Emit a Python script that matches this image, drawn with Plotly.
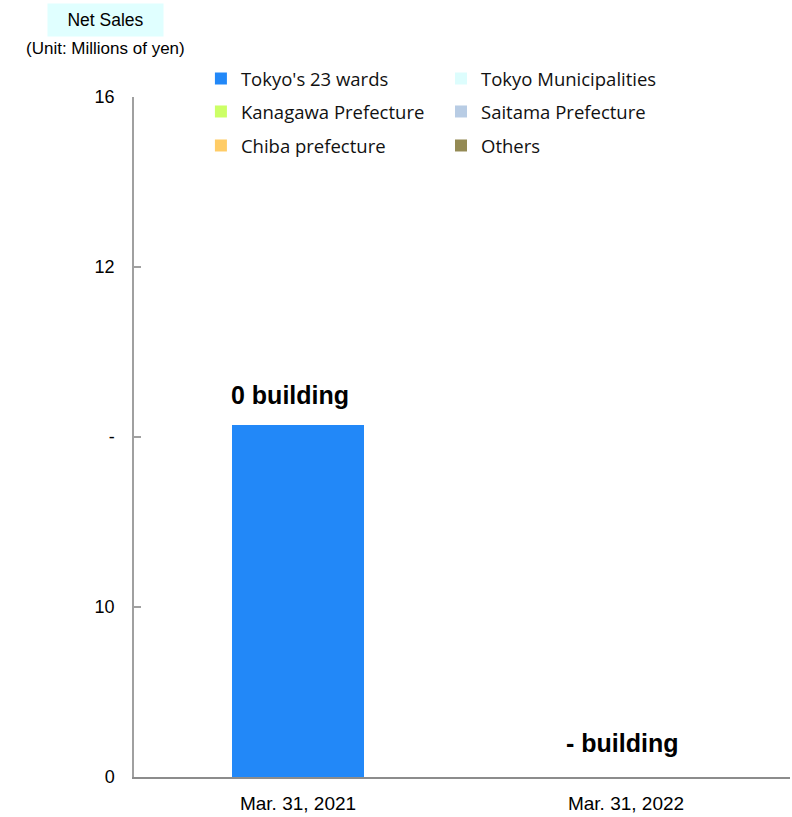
import plotly.graph_objects as go

categories = ["Mar. 31, 2021", "Mar. 31, 2022"]
series_names = ["Tokyo's 23 wards", "Tokyo Municipalities", "Kanagawa Prefecture",
                "Saitama Prefecture", "Chiba prefecture", "Others"]
series_colors = ["#2288F8", "#DDFDFD", "#CCFF66", "#B8CCE4", "#FFCC66", "#948A54"]
tokyo23 = [2.07, None]
tokyo_muni = [None, None]
kanagawa = [None, None]
saitama = [None, None]
chiba = [None, None]
others = [None, None]
series_values = [tokyo23, tokyo_muni, kanagawa, saitama, chiba, others]
bar_labels = ["0 building", "- building"]
tick_vals = [0, 1, 2, 3, 4]
tick_text = ["0", "10", "-", "12", "16"]

NARROW = "Liberation Sans Narrow, Arial Narrow, Liberation Sans, Arial, sans-serif"
LEG = "Open Sans, Lato, sans-serif"

# legend slot placement (paper coords): two columns, three rows
leg_x = [0.102, 0.468]
leg_y = [1.0265, 0.978, 0.928]

fig = go.Figure()
legend_layout = {}
for i, (name, vals, col) in enumerate(zip(series_names, series_values, series_colors)):
    key = "legend" if i == 0 else "legend%d" % (i + 1)
    fig.add_trace(go.Bar(
        x=categories, y=vals, name=name, marker=dict(color=col, line=dict(width=0)),
        legend=key,
    ))
    legend_layout[key] = dict(
        x=leg_x[i % 2], y=leg_y[i // 2], xanchor="left", yanchor="middle",
        orientation="v", font=dict(family=LEG, size=18.5, color="#111111"),
        itemwidth=30, bgcolor="rgba(0,0,0,0)",
    )

totals = [sum(v[j] or 0 for v in series_values) for j in range(len(categories))]
for j, cat in enumerate(categories):
    fig.add_annotation(x=cat, y=totals[j], text="<b>%s</b>" % bar_labels[j],
                       showarrow=False, yanchor="bottom",
                       yshift=14 if j == 0 else 18, xshift=-8 if j == 0 else -4,
                       font=dict(family=NARROW, size=25, color="#000000"))

fig.add_annotation(xref="paper", yref="paper", x=-0.0434, y=1.1132, xanchor="center",
                   yanchor="middle", text="Net Sales", showarrow=False,
                   bgcolor="#E0FFFF", width=113, height=30,
                   font=dict(family=NARROW, size=17.5, color="#000000"))
fig.add_annotation(xref="paper", yref="paper", x=-0.0434, y=1.072, xanchor="center",
                   yanchor="middle", text="(Unit: Millions of yen)", showarrow=False,
                   font=dict(family=NARROW, size=17, color="#000000"))

fig.update_layout(
    width=792, height=817,
    margin=dict(l=134, r=2, t=97, b=40),
    plot_bgcolor="white", paper_bgcolor="white",
    barmode="stack", bargap=0.6,
    showlegend=True,
    xaxis=dict(showline=True, linecolor="#8C8C8C", linewidth=1.5, ticks="",
               tickfont=dict(family=NARROW, size=19, color="#000000"),
               showgrid=False, zeroline=False, ticklabelstandoff=8),
    yaxis=dict(range=[0, 4], tickvals=tick_vals, ticktext=tick_text,
               showline=True, linecolor="#A0A0A0", linewidth=1.5, ticks="inside",
               ticklen=7, tickcolor="#A0A0A0", tickwidth=1.5,
               tickfont=dict(family=NARROW, size=18, color="#000000"),
               showgrid=False, zeroline=False, ticklabelstandoff=14),
    **legend_layout,
)

fig.write_html("out.html")
